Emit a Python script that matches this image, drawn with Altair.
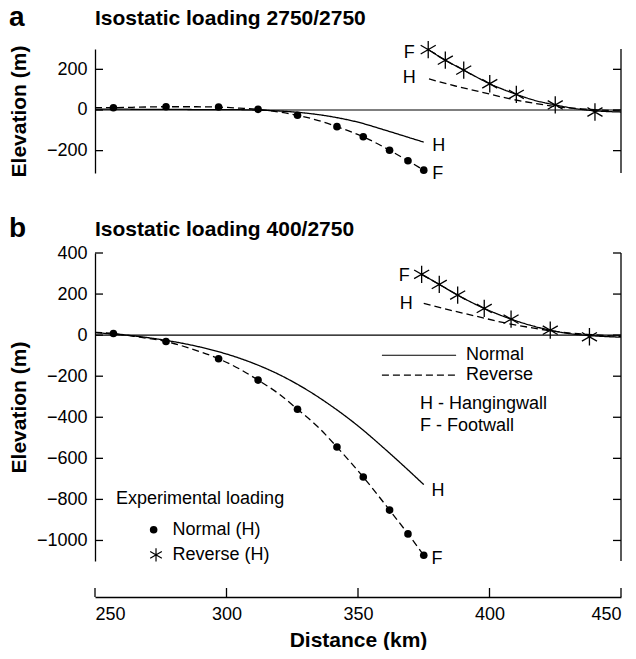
import altair as alt
import pandas as pd

# ---------------- data ----------------
# Panel a: Isostatic loading 2750/2750
a_dot_x = [257, 277, 297, 312, 327, 342, 352, 362, 369, 375]
a_dot_y = [11, 16, 15, 3, -26, -82, -132, -198, -250, -296]
a_star_x = [376.7, 383.2, 390.2, 400.1, 410.2, 425, 440.1]
a_star_y = [297, 245, 196, 129, 77, 25, -10]
a_low_h_x = [250, 260, 270, 280, 290, 300, 310, 320, 330, 340, 350, 360, 370, 375]
a_low_h_y = [4, 4, 3, 3, 2, 2, 0, -5, -15, -33, -60, -98, -138, -158]
a_low_f_x = [250, 257, 267, 277, 287, 297, 305, 312, 320, 327, 335, 342, 352, 362, 369, 375]
a_low_f_y = [12, 12, 14, 16, 16, 14, 9, 3, -10, -26, -52, -82, -132, -198, -250, -296]
a_up_f_x = [376.7, 383.2, 390.2, 400.1, 410.2, 417, 425, 432, 440.1, 450]
a_up_f_y = [297, 245, 196, 129, 77, 48, 25, 8, -4, -10]
a_up_h_x = [377, 387, 397, 407, 417, 427, 437, 450]
a_up_h_y = [153, 118, 88, 57, 33, 14, 4, -5]

# Panel b: Isostatic loading 400/2750
b_dot_x = [257, 277, 297, 312, 327, 342, 352, 362, 369, 375]
b_dot_y = [8, -31, -115, -219, -361, -545, -691, -852, -968, -1072]
b_star_x = [374.2, 380.9, 387.9, 398, 408.2, 423.1, 438]
b_star_y = [296, 247, 195, 130, 78, 24, -8]
b_low_h_x = [250, 256, 262, 270, 280, 290, 300, 310, 320, 330, 340, 350, 360, 370, 375]
b_low_h_y = [13, 6, 0, -12, -32, -58, -92, -136, -192, -262, -346, -442, -552, -668, -728]
b_low_f_x = [250, 257, 267, 277, 287, 297, 305, 312, 320, 327, 335, 342, 352, 362, 369, 375]
b_low_f_y = [13, 8, -10, -31, -68, -115, -165, -219, -287, -361, -450, -545, -691, -852, -968, -1072]
b_up_f_x = [374.2, 380.9, 387.9, 398, 408.2, 415, 423.1, 430, 438, 450]
b_up_f_y = [296, 247, 195, 130, 78, 50, 24, 8, -2, -10]
b_up_h_x = [375, 385, 395, 405, 415, 425, 437, 450]
b_up_h_y = [155, 122, 92, 62, 38, 18, 4, -6]

# curve end labels
a_lab_t = ["F", "H", "H", "F"]
a_lab_x = [369.5, 369.5, 380.7, 380.3]
a_lab_y = [282, 156, -177, -313]
b_lab_t = ["F", "H", "H", "F"]
b_lab_x = [367.6, 368.3, 380.4, 380.0]
b_lab_y = [290, 151, -761, -1090]

# axis ticks
x_ticks = [250, 300, 350, 400, 450]
a_y_ticks = [-200, 0, 200]
b_y_ticks = [-1000, -800, -600, -400, -200, 0, 200, 400]

# legend (panel b)
leg_line_x = [359.1, 387.3]
leg_line_y = [-98, -195]
leg_line_t = ["Normal", "Reverse"]
leg_text_x = 391.1
leg_wall_t = ["H - Hangingwall", "F - Footwall"]
leg_wall_x = 373.6
leg_wall_y = [-337, -444]
exp_title = "Experimental loading"
exp_title_x, exp_title_y = 258, -797
exp_sym_x = [272.3, 273.2]
exp_sym_y = [-948, -1070]
exp_text_x = 279.5
exp_text = ["Normal (H)", "Reverse (H)"]

# ---------------- styling ----------------
FONT = "Liberation Sans"
W = 526
HA = 124
HB = 308
STAR = "M0,-1L0,1M-0.87,-0.5L0.87,0.5M-0.87,0.5L0.87,-0.5"


def lines_df(curves):
    rows = []
    for name, style, xs, ys in curves:
        for xv, yv in zip(xs, ys):
            rows.append({"x": xv, "y": yv, "curve": name, "style": style})
    return pd.DataFrame(rows)


def panel(letter, title, title_y, ydom, yticks, curves, dots, stars, labels,
          dash, height, show_x, extra=None):
    xscale = alt.Scale(domain=[250, 450], nice=False, zero=False)
    yscale = alt.Scale(domain=ydom, nice=False, zero=False)
    if show_x:
        xaxis = alt.Axis(values=x_ticks, ticks=False, domain=True, offset=36,
                         labelFontSize=18, labelPadding=8, title="Distance (km)",
                         titleFontSize=21, titleFontWeight="bold", titlePadding=6,
                         grid=False, format="d")
    else:
        xaxis = None
    yaxis = alt.Axis(values=yticks, ticks=False, domain=True, labelFontSize=18,
                     labelPadding=8, title="Elevation (m)", titleFontSize=21,
                     titleFontWeight="bold", titleX=-66, titleY=height / 2,
                     grid=False, format="d")
    X = alt.X("x:Q", scale=xscale, axis=xaxis)
    Y = alt.Y("y:Q", scale=yscale, axis=yaxis)

    layers = []
    zero = alt.Chart(pd.DataFrame({"y": [0]})).mark_rule(color="black", strokeWidth=1.2).encode(y=Y)
    layers.append(zero)

    ldf = lines_df(curves)
    ln = alt.Chart(ldf).mark_line(color="black", strokeWidth=1.3, interpolate="monotone").encode(
        x=X, y=Y, detail="curve:N",
        strokeDash=alt.StrokeDash("style:N", scale=alt.Scale(domain=["Normal", "Reverse"],
                                                             range=[[1, 0], dash]), legend=None))
    layers.append(ln)

    ddf = pd.DataFrame({"x": dots[0], "y": dots[1]})
    layers.append(alt.Chart(ddf).mark_circle(size=58, color="black", opacity=1).encode(x=X, y=Y))
    sdf = pd.DataFrame({"x": stars[0], "y": stars[1]})
    layers.append(alt.Chart(sdf).mark_point(shape=STAR, size=300, color="black", opacity=1,
                                            strokeWidth=1.3, filled=False).encode(x=X, y=Y))
    tdf = pd.DataFrame({"x": labels[1], "y": labels[2], "t": labels[0]})
    layers.append(alt.Chart(tdf).mark_text(font=FONT, fontSize=18, color="black",
                                           align="center", baseline="middle").encode(x=X, y=Y, text="t:N"))

    # right-hand axis line
    layers.append(alt.Chart(pd.DataFrame({"x": [450]})).mark_rule(color="black", strokeWidth=1.3).encode(x=X))
    # inward ticks on left and right y axes
    ydf = pd.DataFrame({"y": yticks})
    layers.append(alt.Chart(ydf).mark_rule(color="black", strokeWidth=1.3).encode(
        y=Y, x=alt.value(0), x2=alt.value(8)))
    layers.append(alt.Chart(ydf).mark_rule(color="black", strokeWidth=1.3).encode(
        y=Y, x=alt.value(W - 8), x2=alt.value(W)))
    if show_x:
        layers.append(alt.Chart(pd.DataFrame({"x": x_ticks})).mark_rule(color="black", strokeWidth=1.3).encode(
            x=X, y=alt.value(height + 36), y2=alt.value(height + 27)))
    # panel letter and panel title
    layers.append(alt.Chart(pd.DataFrame({"t": [letter]})).mark_text(
        font=FONT, fontSize=28, fontWeight="bold", align="left", baseline="alphabetic",
        color="black").encode(text="t:N", x=alt.value(-86), y=alt.value(title_y + 1)))
    layers.append(alt.Chart(pd.DataFrame({"t": [title]})).mark_text(
        font=FONT, fontSize=21, fontWeight="bold", align="left", baseline="alphabetic",
        color="black").encode(text="t:N", x=alt.value(0), y=alt.value(title_y)))
    if extra is not None:
        layers.extend(extra(X, Y))

    return alt.layer(*layers).properties(width=W, height=height)


def legend_b(X, Y):
    out = []
    rows = []
    for i, (lab, yv) in enumerate(zip(leg_line_t, leg_line_y)):
        for xv in leg_line_x:
            rows.append({"x": xv, "y": yv, "curve": "leg" + str(i), "style": lab})
    out.append(alt.Chart(pd.DataFrame(rows)).mark_line(color="black", strokeWidth=1.2).encode(
        x=X, y=Y, detail="curve:N",
        strokeDash=alt.StrokeDash("style:N", scale=alt.Scale(domain=["Normal", "Reverse"],
                                                             range=[[1, 0], [5, 3]]), legend=None)))
    t1 = pd.DataFrame({"x": [leg_text_x] * 2, "y": leg_line_y, "t": leg_line_t})
    t2 = pd.DataFrame({"x": [leg_wall_x] * 2, "y": leg_wall_y, "t": leg_wall_t})
    t3 = pd.DataFrame({"x": [exp_title_x], "y": [exp_title_y], "t": [exp_title]})
    t4 = pd.DataFrame({"x": [exp_text_x] * 2, "y": exp_sym_y, "t": exp_text})
    tall = pd.concat([t1, t2, t3, t4], ignore_index=True)
    out.append(alt.Chart(tall).mark_text(font=FONT, fontSize=18, color="black", align="left",
                                         baseline="middle").encode(x=X, y=Y, text="t:N"))
    out.append(alt.Chart(pd.DataFrame({"x": [exp_sym_x[0]], "y": [exp_sym_y[0]]})).mark_circle(
        size=58, color="black", opacity=1).encode(x=X, y=Y))
    out.append(alt.Chart(pd.DataFrame({"x": [exp_sym_x[1]], "y": [exp_sym_y[1]]})).mark_point(
        shape=STAR, size=180, color="black", opacity=1, strokeWidth=1.2, filled=False).encode(x=X, y=Y))
    return out


pa = panel("a", "Isostatic loading 2750/2750", -24, [-310, 300], a_y_ticks,
           [("lowH", "Normal", a_low_h_x, a_low_h_y),
            ("lowF", "Reverse", a_low_f_x, a_low_f_y),
            ("upF", "Normal", a_up_f_x, a_up_f_y),
            ("upH", "Reverse", a_up_h_x, a_up_h_y)],
           (a_dot_x, a_dot_y), (a_star_x, a_star_y), (a_lab_t, a_lab_x, a_lab_y),
           [7, 4], HA, False)

pb = panel("b", "Isostatic loading 400/2750", -17, [-1100, 400], b_y_ticks,
           [("lowH", "Normal", b_low_h_x, b_low_h_y),
            ("lowF", "Reverse", b_low_f_x, b_low_f_y),
            ("upF", "Normal", b_up_f_x, b_up_f_y),
            ("upH", "Reverse", b_up_h_x, b_up_h_y)],
           (b_dot_x, b_dot_y), (b_star_x, b_star_y), (b_lab_t, b_lab_x, b_lab_y),
           [4, 3], HB, True, extra=legend_b)

chart = alt.vconcat(pa, pb, spacing=80, bounds="flush").properties(
    padding={"left": 0, "top": -4, "right": 0, "bottom": 0}
).configure_view(stroke=None).configure_axis(
    labelFont=FONT, titleFont=FONT, labelColor="black", titleColor="black",
    domainColor="black", domainWidth=1.3
)

chart.save("out.html", embed_options={"renderer": "svg", "actions": False})
